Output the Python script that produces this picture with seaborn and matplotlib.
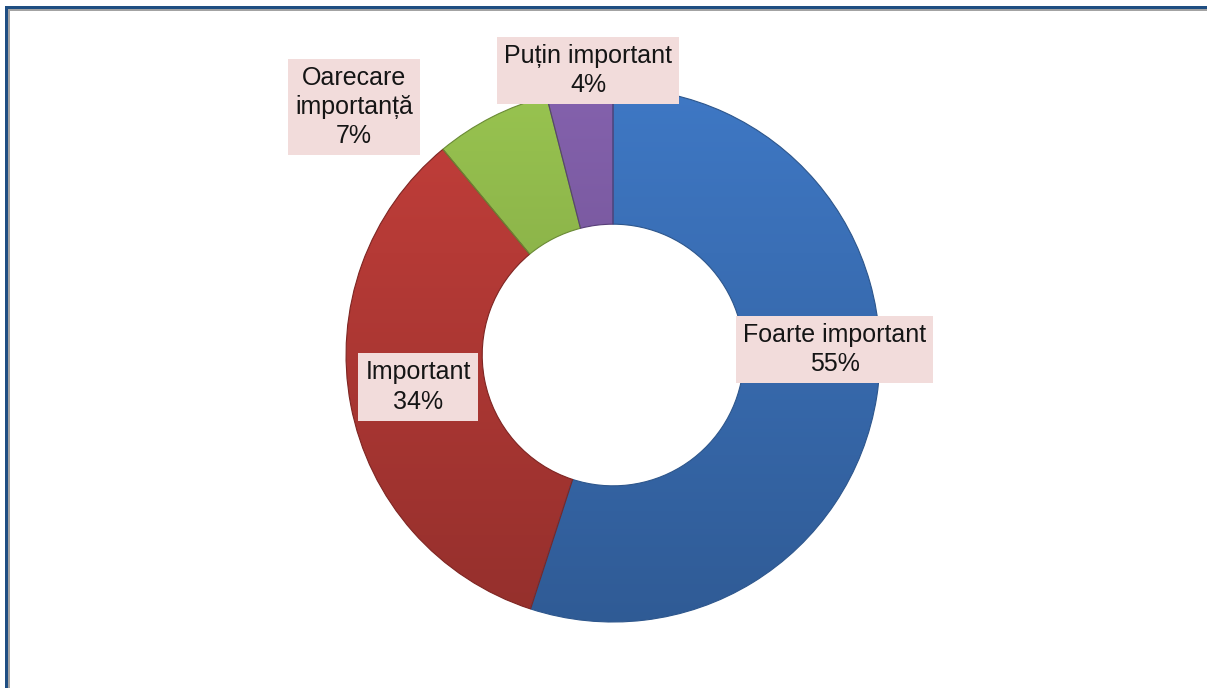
import matplotlib
matplotlib.use("Agg")
import numpy as np
import matplotlib.pyplot as plt
from matplotlib.colors import to_rgb
from matplotlib.patches import Rectangle
import seaborn as sns

# data
categories = ["Foarte important", "Important", "Oarecare\nimportanță", "Puțin important"]
values = [55, 34, 7, 4]
colors = ["#3a6fb6", "#b53a36", "#8db54a", "#7a5aa0"]
edge_colors = ["#2d568c", "#7e2522", "#6a8a35", "#573f78"]
# label positions (radius units, relative to centre)
label_pos = [(0.83, 0.02), (-0.73, -0.12), (-0.97, 0.93), (-0.094, 1.065)]

sns.set_theme(style="white")
plt.rcParams["font.family"] = ["Liberation Sans", "DejaVu Sans"]

fig = plt.figure(figsize=(12.07, 6.88), dpi=100)
ax = fig.add_axes([0.2867, 0.0959, 0.4424, 0.7762])

wedges, _ = ax.pie(values, colors=colors, startangle=90, counterclock=False,
                   radius=1, wedgeprops=dict(width=0.51, linewidth=0.8))

# vertical shading inside each wedge (lighter at top, darker at bottom)
t = np.linspace(1, 0, 256).reshape(-1, 1, 1)
for w, c, ec in zip(wedges, colors, edge_colors):
    base = np.array(to_rgb(c))
    top = np.clip(base * 1.08, 0, 1)
    bot = base * 0.82
    img = bot + (top - bot) * t
    img = np.repeat(img, 2, axis=1)
    im = ax.imshow(img, extent=(-1, 1, -1, 1), origin="upper", aspect="auto", zorder=1)
    im.set_clip_path(w)
    w.set_facecolor("none")
    w.set_edgecolor(ec)
    w.set_zorder(2)

for cat, v, (x, y) in zip(categories, values, label_pos):
    ax.text(x, y, f"{cat}\n{v}%", ha="center", va="center", fontsize=18,
            color="#151515", linespacing=1.27, zorder=5,
            bbox=dict(boxstyle="square,pad=0.28", facecolor="#f2dcdb", edgecolor="none"))

ax.set_xlim(-1, 1)
ax.set_ylim(-1, 1)
ax.set_aspect("equal")
ax.axis("off")

# frame (top and left only), in pixel units
H, W = 688, 1207
def px_rect(x0, y0, w, h, color):
    fig.add_artist(Rectangle((x0 / W, 1 - (y0 + h) / H), w / W, h / H,
                             transform=fig.transFigure, facecolor=color,
                             edgecolor="none"))

px_rect(5, 6, W - 5, 3, "#1f4e82")
px_rect(8, 9, W - 8, 2, "#a3a3a3")
px_rect(5, 6, 3, H - 6, "#1f4e82")
px_rect(8, 9, 2, H - 9, "#a3a3a3")

fig.savefig("out.png", dpi=100)
